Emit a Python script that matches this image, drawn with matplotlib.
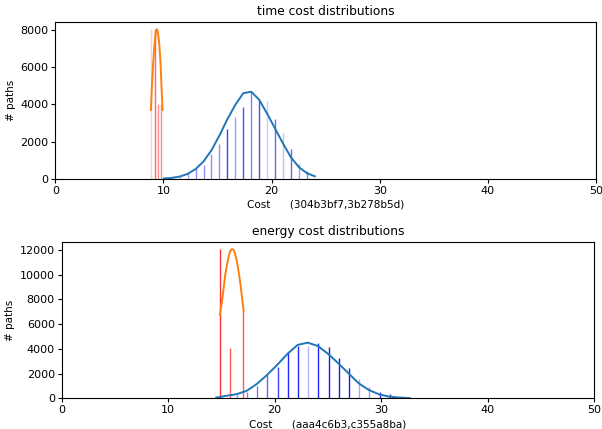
import numpy as np
import matplotlib
matplotlib.use("Agg")
import matplotlib.pyplot as plt
from matplotlib.ticker import MultipleLocator

# time cost: histogram bars (red = first group, blue = second group)
time_red_x = [8.84, 9.21, 9.54, 9.73]
time_red_n = [8040, 8040, 4020, 4020]
time_blue_x = [11.50, 12.24, 12.97, 13.71, 14.44, 15.18, 15.91, 16.65, 17.38,
               18.12, 18.85, 19.59, 20.32, 21.06, 21.79, 22.53, 23.26]
time_blue_n = [170, 310, 550, 760, 1350, 1890, 2700, 3300, 3850,
               4650, 4240, 4200, 3200, 2450, 1590, 800, 390]

# time cost: fitted curves
time_fit_red_x = [8.84, 8.93, 9.05, 9.18, 9.30, 9.39, 9.48, 9.61, 9.73, 9.82, 9.92]
time_fit_red_y = [3700, 4950, 6210, 7280, 7910, 8050, 7910, 7280, 6210, 4950, 3700]
time_fit_blue_x = [10.03, 10.77, 11.50, 12.24, 12.97, 13.71, 14.44, 15.18, 15.91, 16.65,
                   17.38, 18.12, 18.85, 19.59, 20.32, 21.06, 21.79, 22.53, 23.26, 24.00]
time_fit_blue_y = [15, 45, 115, 260, 520, 930, 1530, 2330, 3200, 3980,
                   4600, 4680, 4250, 3500, 2700, 1890, 1150, 620, 300, 130]

# energy cost: histogram bars
energy_red_x = [14.86, 15.77, 16.99]
energy_red_n = [12080, 4045, 7065]
energy_blue_x = [16.46, 17.40, 18.34, 19.28, 20.28, 21.22, 22.16, 23.14,
                 24.08, 25.08, 26.02, 26.96, 27.94, 28.91, 29.88, 30.82]
energy_blue_n = [270, 530, 1000, 1940, 2560, 3640, 4230, 4230,
                 4450, 4180, 3240, 2430, 1540, 940, 530, 320]

# energy cost: fitted curves
energy_fit_red_x = [14.86, 15.05, 15.21, 15.36, 15.52, 15.68, 15.83, 15.99,
                    16.15, 16.30, 16.46, 16.62, 16.78, 16.93, 17.09]
energy_fit_red_y = [6740, 7820, 8900, 9980, 10790, 11460, 11920, 12080,
                    12000, 11650, 11060, 10250, 9300, 8220, 7060]
energy_fit_blue_x = [14.50, 15.46, 16.42, 17.37, 18.33, 19.29, 20.24, 21.20, 22.16, 23.11,
                     24.07, 25.03, 25.98, 26.94, 27.90, 28.85, 29.81, 30.77, 31.72, 32.68]
energy_fit_blue_y = [50, 200, 330, 600, 1160, 1890, 2700, 3590, 4320, 4500,
                     4230, 3590, 2830, 2020, 1210, 670, 320, 130, 60, 20]

# shading of the individual bars
time_red_alpha = [0.2, 0.6, 0.45, 0.45]
time_blue_alpha = [0.3, 0.35, 0.45, 0.45, 0.45, 0.45, 0.75, 0.4, 0.7,
                   0.5, 0.7, 0.2, 0.6, 0.25, 0.6, 0.4, 0.5]
energy_red_alpha = [0.8, 0.65, 0.65]
energy_blue_alpha = [0.5, 0.5, 0.55, 0.6, 0.75, 0.85, 0.85, 0.3,
                     0.85, 0.9, 0.9, 0.9, 0.35, 0.4, 0.85, 0.85]


def draw(ax, red_x, red_n, red_a, blue_x, blue_n, blue_a,
         fr_x, fr_y, fb_x, fb_y, title, label, ymax):
    for x, n, a in zip(red_x, red_n, red_a):
        ax.vlines(x, 0, n, color='red', alpha=a, lw=1)
    for x, n, a in zip(blue_x, blue_n, blue_a):
        ax.vlines(x, 0, n, color='blue', alpha=a, lw=1)
    ax.plot(fb_x, fb_y, color='C0', lw=1.4)
    ax.plot(fr_x, fr_y, color='C1', lw=1.4)
    ax.set_xlim(0, 50)
    ax.set_ylim(0, ymax)
    ax.yaxis.set_major_locator(MultipleLocator(2000))
    ax.set_title(title, fontsize=8.8, pad=5)
    ax.set_xlabel(label, fontsize=7.5, labelpad=3)
    ax.set_ylabel('# paths', fontsize=7.5, labelpad=3)
    ax.tick_params(labelsize=8, length=3, pad=2)


fig = plt.figure(figsize=(6.02, 4.29), dpi=100)
ax1 = fig.add_axes([0.0919, 0.5834, 0.8981, 0.3653])
ax2 = fig.add_axes([0.1025, 0.0716, 0.8842, 0.3650])

draw(ax1, time_red_x, time_red_n, time_red_alpha,
     time_blue_x, time_blue_n, time_blue_alpha,
     time_fit_red_x, time_fit_red_y, time_fit_blue_x, time_fit_blue_y,
     'time cost distributions', 'Cost      (304b3bf7,3b278b5d)', 8430)
draw(ax2, energy_red_x, energy_red_n, energy_red_alpha,
     energy_blue_x, energy_blue_n, energy_blue_alpha,
     energy_fit_red_x, energy_fit_red_y, energy_fit_blue_x, energy_fit_blue_y,
     'energy cost distributions', 'Cost      (aaa4c6b3,c355a8ba)', 12670)

fig.savefig('out.png', dpi=100)
